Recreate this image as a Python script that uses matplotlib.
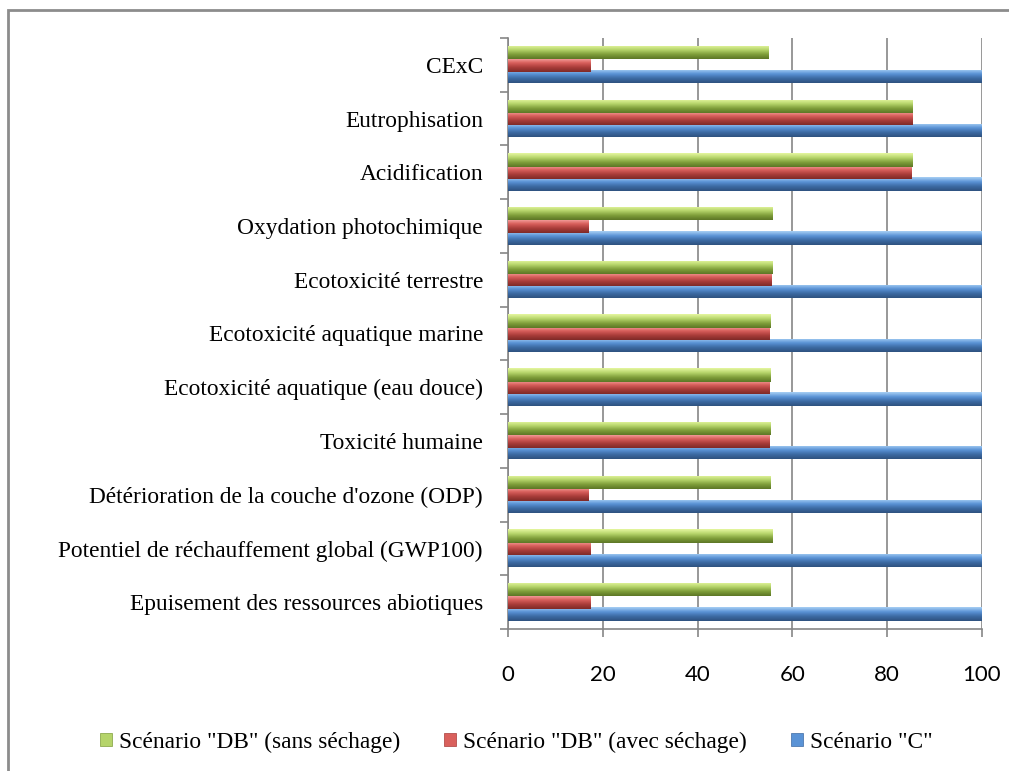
import matplotlib
matplotlib.use('Agg')
import matplotlib.pyplot as plt
import numpy as np
from matplotlib.colors import LinearSegmentedColormap
from matplotlib.patches import Rectangle

# Données
categories = [
    'Epuisement des ressources abiotiques',
    'Potentiel de réchauffement global (GWP100)',
    "Détérioration de la couche d'ozone (ODP)",
    'Toxicité humaine',
    'Ecotoxicité aquatique (eau douce)',
    'Ecotoxicité aquatique marine',
    'Ecotoxicité terrestre',
    'Oxydation photochimique',
    'Acidification',
    'Eutrophisation',
    'CExC',
]
scenario_c = [100, 100, 100, 100, 100, 100, 100, 100, 100, 100, 100]
db_avec = [17.3, 17.3, 16.9, 55.1, 55.1, 55.1, 55.6, 16.9, 85.2, 85.4, 17.3]
db_sans = [55.3, 55.7, 55.3, 55.3, 55.3, 55.3, 55.7, 55.7, 85.4, 85.4, 55.0]

series = [
    ('Scénario "C"', scenario_c, ['#a9d0f5', '#5a93d6', '#3c6aa3', '#2e527f']),
    ('Scénario "DB" (avec séchage)', db_avec, ['#f7a8a6', '#d9605c', '#a83c39', '#7e2a28']),
    ('Scénario "DB" (sans séchage)', db_sans, ['#e6f7a0', '#b5d46a', '#7f9e3a', '#5c7625']),
]
offsets = [-0.22, 0.0, 0.23]
h = 0.25

fig = plt.figure(figsize=(10.09, 7.71), dpi=100)
ax = fig.add_axes([508/1009, 1 - 629/771, 474/1009, 591/771])

y = np.arange(len(categories))
grad = np.linspace(0, 1, 50).reshape(-1, 1)

handles = []
for (lab, vals, cols), off in zip(series, offsets):
    cmap = LinearSegmentedColormap.from_list(lab, cols[::-1])
    bars = ax.barh(y + off, vals, height=h, color=cols[1], zorder=3, linewidth=0)
    for b in bars:
        x0, y0 = b.get_x(), b.get_y()
        w, hh = b.get_width(), b.get_height()
        im = ax.imshow(grad, extent=[x0, x0 + w, y0, y0 + hh], origin='lower',
                       cmap=cmap, aspect='auto', zorder=4, interpolation='bicubic')
        im.set_clip_path(b)
    handles.append(Rectangle((0, 0), 1, 1, facecolor=cols[1], edgecolor=cols[2], linewidth=0.5))

ax.set_xlim(0, 100)
ax.set_ylim(-0.5, len(categories) - 0.5)
ax.set_xticks(np.arange(0, 101, 20))
ax.set_yticks(y)
ax.set_yticklabels(categories, family='Liberation Serif', fontsize=16.8)
ax.set_yticks(np.arange(-0.5, len(categories), 1), minor=True)
ax.tick_params(axis='y', which='major', length=0, pad=18)
ax.tick_params(axis='y', which='minor', length=6, color='#868686', width=1.2)
ax.tick_params(axis='x', length=6, color='#868686', width=1.2, labelsize=16, pad=20)
for t in ax.get_xticklabels():
    t.set_family('Lato')

ax.grid(axis='x', color='#868686', linewidth=1.2, zorder=1)
for s in ['top', 'right']:
    ax.spines[s].set_visible(False)
for s in ['left', 'bottom']:
    ax.spines[s].set_color('#868686')
    ax.spines[s].set_linewidth(1.2)

# légende dans l'ordre affiché
order = [2, 1, 0]
leg = fig.legend([handles[i] for i in order], [series[i][0] for i in order],
                 loc='center', bbox_to_anchor=(516/1009, 1 - 742/771), ncol=3, frameon=False,
                 prop={'family': 'Liberation Serif', 'size': 16.8},
                 handlelength=0.5, handleheight=0.5, handletextpad=0.3, columnspacing=1.9,
                 borderpad=0, borderaxespad=0)

# cadre
fig.patches.append(Rectangle((8/1009, -0.1), 1.2, (771 - 10)/771 + 0.1, transform=fig.transFigure,
                             fill=False, edgecolor='#8c8c8c', linewidth=2))

fig.savefig('out.png', dpi=100)
